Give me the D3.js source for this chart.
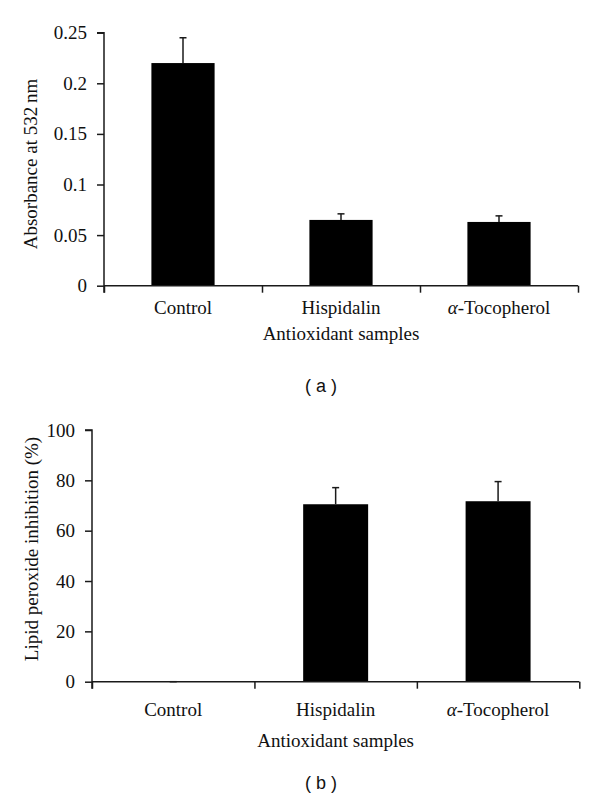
<!DOCTYPE html>
<html><head><meta charset="utf-8">
<script src="https://cdn.jsdelivr.net/npm/d3@7"></script>
<style>
body{margin:0;background:#fff;}
svg text{font-family:"Liberation Serif","DejaVu Serif",serif;fill:#111;}
</style></head>
<body>
<svg id="c" width="600" height="803"></svg>
<script>
const categories = ["Control", "Hispidalin", "\u03B1-Tocopherol"];
const absorbance = [0.22, 0.065, 0.063];
const absorbanceErr = [0.025, 0.006, 0.006];
const inhibition = [0, 70.5, 71.7];
const inhibitionErr = [0, 6.6, 7.8];
const absTicks = [0, 0.05, 0.1, 0.15, 0.2, 0.25];
const inhTicks = [0, 20, 40, 60, 80, 100];
const absTickLabels = ["0", "0.05", "0.1", "0.15", "0.2", "0.25"];
const inhTickLabels = ["0", "20", "40", "60", "80", "100"];

const svg = d3.select("#c");
const stroke = "#1a1a1a";

function panel(cfg){
  const g = svg.append("g");
  const x = d3.scaleBand().domain(categories).range([cfg.x0, cfg.x1]).paddingInner(0.6).paddingOuter(0.3);
  const xEdge = d3.scaleLinear().domain([0, categories.length]).range([cfg.x0, cfg.x1]);
  const y = d3.scaleLinear().domain(cfg.domain).range([cfg.yb, cfg.yt]);

  g.selectAll("rect.bar").data(categories).enter().append("rect")
    .attr("x", d => x(d)).attr("width", x.bandwidth())
    .attr("y", (d,i) => y(cfg.vals[i])).attr("height", (d,i) => y(0) - y(cfg.vals[i]))
    .attr("fill", "#000");
  const eb = g.selectAll("g.err").data(categories).enter().append("g");
  eb.append("line")
    .attr("x1", d => x(d) + x.bandwidth()/2).attr("x2", d => x(d) + x.bandwidth()/2)
    .attr("y1", (d,i) => y(cfg.vals[i])).attr("y2", (d,i) => y(cfg.vals[i] + cfg.errs[i]))
    .attr("stroke", stroke).attr("stroke-width", 1.5);
  eb.append("line")
    .attr("x1", d => x(d) + x.bandwidth()/2 - 3.5).attr("x2", d => x(d) + x.bandwidth()/2 + 3.5)
    .attr("y1", (d,i) => y(cfg.vals[i] + cfg.errs[i])).attr("y2", (d,i) => y(cfg.vals[i] + cfg.errs[i]))
    .attr("stroke", stroke).attr("stroke-width", 1.5);

  const ya = d3.axisLeft(y).tickValues(cfg.ticks).tickFormat((d,i) => cfg.tickLabels[i]).tickSize(7).tickPadding(10);
  const yg = g.append("g").attr("transform", `translate(${cfg.x0},0)`).call(ya);
  yg.attr("font-family", null);
  yg.select(".domain").attr("stroke", stroke).attr("stroke-width", 1.5).attr("d", `M-7,${cfg.yt}H0V${cfg.yb + 7}`);
  yg.selectAll(".tick line").attr("stroke", stroke).attr("stroke-width", 1.5);
  yg.selectAll(".tick text").style("font-size", "19px").attr("fill", "#111");

  const xa = d3.axisBottom(xEdge).tickValues(d3.range(categories.length + 1)).tickFormat("").tickSize(7);
  const xg = g.append("g").attr("transform", `translate(0,${cfg.yb})`).call(xa);
  xg.select(".domain").attr("stroke", stroke).attr("stroke-width", 1.5).attr("d", `M${cfg.x0},0H${cfg.x1}`);
  xg.selectAll(".tick line").attr("stroke", stroke).attr("stroke-width", 1.5);

  g.selectAll("text.cat").data(categories).enter().append("text")
    .attr("x", d => x(d) + x.bandwidth()/2).attr("y", cfg.yb + cfg.catOff)
    .attr("text-anchor", "middle").style("font-size", "19px")
    .each(function(d){
      const t = d3.select(this);
      if (d.startsWith("\u03B1")) {
        t.append("tspan").attr("font-style", "italic").text("\u03B1");
        t.append("tspan").text(d.slice(1));
      } else t.text(d);
    });
  g.append("text").attr("x", (cfg.x0 + cfg.x1)/2).attr("y", cfg.yb + cfg.titleOff)
    .attr("text-anchor", "middle").style("font-size", "19px").text("Antioxidant samples");
  g.append("text").attr("transform", `translate(${cfg.ylabX},${cfg.ylabY}) rotate(-90)`)
    .attr("text-anchor", "middle").style("font-size", "19px").text(cfg.ylab);
  g.append("text").attr("x", 321).attr("y", cfg.capY).attr("text-anchor", "middle")
    .style("font-family", '"Liberation Sans",Arial,sans-serif').style("font-size", "18px")
    .attr("xml:space", "preserve").text(cfg.cap);
}

panel({x0:104, x1:578, yt:32.7, yb:285.7, domain:[0,0.25], vals:absorbance, errs:absorbanceErr,
  ticks:absTicks, tickLabels:absTickLabels, catOff:28.5, titleOff:54, ylab:"Absorbance at 532\u2009nm",
  ylabX:37, ylabY:164, cap:"( a )", capY:392});
panel({x0:92, x1:579.3, yt:430, yb:681.7, domain:[0,100], vals:inhibition, errs:inhibitionErr,
  ticks:inhTicks, tickLabels:inhTickLabels, catOff:34.3, titleOff:65, ylab:"Lipid peroxide inhibition (%)",
  ylabX:38, ylabY:549, cap:"( b )", capY:789});
</script>
</body></html>
